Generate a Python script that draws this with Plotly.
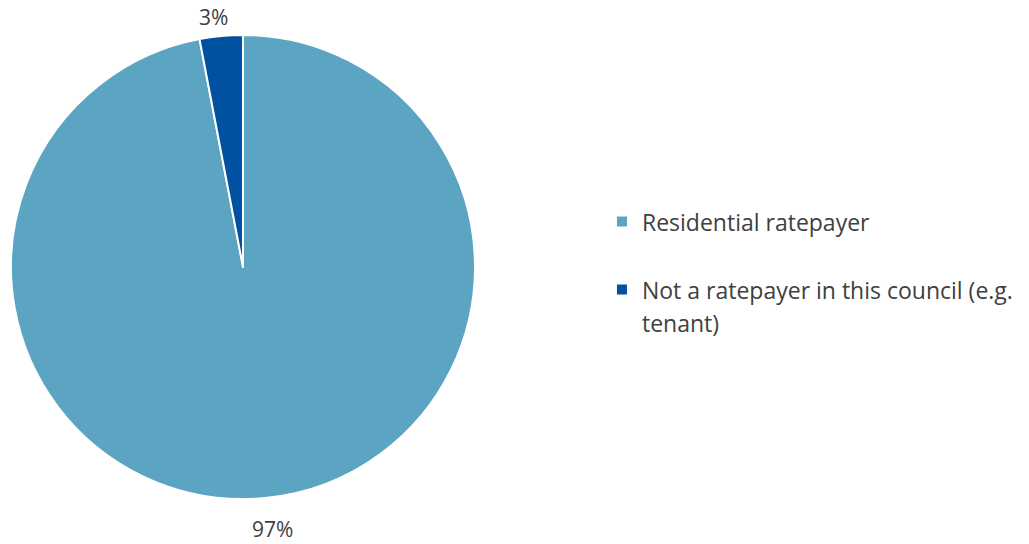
import math
import plotly.graph_objects as go

# Respondent type shares (percent)
categories = ["Residential ratepayer", "Not a ratepayer in this council (e.g.<br>tenant)"]
shares = [97, 3]
slice_colors = ["#5BA4C2", "#0051A0"]

W, H = 1029, 544
margin = dict(l=0, r=0, t=35, b=45)
plot_h = H - margin["t"] - margin["b"]
radius_px = plot_h / 2
center_px = 243


def legend_text(s):
    # legend rows use a larger base font for roomier line spacing; text itself is 23px
    return "<br>".join(f"<span style='font-size:23px'>{part}</span>" for part in s.split("<br>"))


# first legend entry carries a blank second line to open up the gap between items
legend_labels = [legend_text(categories[0]) + "<br> ", legend_text(categories[1])]

fig = go.Figure(
    go.Pie(
        labels=legend_labels,
        values=shares,
        sort=False,
        direction="clockwise",
        rotation=0,
        marker=dict(colors=slice_colors, line=dict(color="white", width=2)),
        textinfo="none",
        domain=dict(x=[(center_px - radius_px) / W, (center_px + radius_px) / W], y=[0, 1]),
        hoverinfo="percent",
    )
)

# percentage labels placed just outside the rim at each slice's mid-angle
total = sum(shares)
start = 0.0
label_dist = radius_px + 25
for v in shares:
    mid = (start + v / 2) / total * 2 * math.pi  # clockwise from 12 o'clock
    start += v
    dx = label_dist * math.sin(mid)
    dy = label_dist * math.cos(mid)
    fig.add_annotation(
        x=(center_px + dx * 1.2) / W,
        y=0.5 + dy / plot_h,
        xref="paper",
        yref="paper",
        text=f"{v}%",
        showarrow=False,
        xanchor="center",
        yanchor="middle",
        yshift=-6,
        font=dict(size=21, color="#404040", family="Open Sans"),
    )

fig.update_layout(
    width=W,
    height=H,
    margin=margin,
    paper_bgcolor="white",
    plot_bgcolor="white",
    font=dict(family="Open Sans", color="#404040", size=23),
    showlegend=True,
    legend=dict(
        x=0.585,
        y=0.49,
        xanchor="left",
        yanchor="middle",
        valign="top",
        font=dict(size=25, color="#404040", family="Open Sans"),
        itemwidth=30,
    ),
)

fig.write_html("out.html")
